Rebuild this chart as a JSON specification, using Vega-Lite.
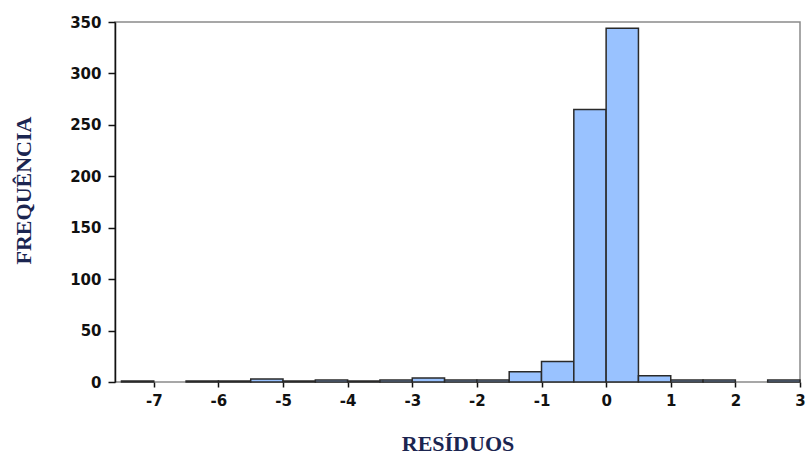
{
  "$schema": "https://vega.github.io/schema/vega-lite/v6.json",
  "width": 685,
  "height": 360,
  "autosize": {"type": "none"},
  "padding": {"left": 115, "top": 22, "right": 6, "bottom": 72},
  "background": "white",
  "config": {
    "view": {"stroke": "#8a8a8a", "strokeWidth": 1.5}
  },
  "data": {
    "values": [
      {"bin_start": -7.5, "bin_end": -7.0, "count": 1},
      {"bin_start": -6.5, "bin_end": -6.0, "count": 1},
      {"bin_start": -6.0, "bin_end": -5.5, "count": 1},
      {"bin_start": -5.5, "bin_end": -5.0, "count": 3},
      {"bin_start": -5.0, "bin_end": -4.5, "count": 1},
      {"bin_start": -4.5, "bin_end": -4.0, "count": 2},
      {"bin_start": -4.0, "bin_end": -3.5, "count": 1},
      {"bin_start": -3.5, "bin_end": -3.0, "count": 2},
      {"bin_start": -3.0, "bin_end": -2.5, "count": 4},
      {"bin_start": -2.5, "bin_end": -2.0, "count": 2},
      {"bin_start": -2.0, "bin_end": -1.5, "count": 2},
      {"bin_start": -1.5, "bin_end": -1.0, "count": 10},
      {"bin_start": -1.0, "bin_end": -0.5, "count": 20},
      {"bin_start": -0.5, "bin_end": 0.0, "count": 265},
      {"bin_start": 0.0, "bin_end": 0.5, "count": 344},
      {"bin_start": 0.5, "bin_end": 1.0, "count": 6},
      {"bin_start": 1.0, "bin_end": 1.5, "count": 2},
      {"bin_start": 1.5, "bin_end": 2.0, "count": 2},
      {"bin_start": 2.5, "bin_end": 3.0, "count": 2}
    ]
  },
  "mark": {"type": "rect", "fill": "#99C2FF", "stroke": "#2a2a2a", "strokeWidth": 1.5},
  "encoding": {
    "x": {
      "field": "bin_start",
      "type": "quantitative",
      "scale": {"domain": [-7.6, 3.0], "nice": false, "zero": false},
      "axis": {
        "values": [-7, -6, -5, -4, -3, -2, -1, 0, 1, 2, 3],
        "labelExpr": "'' + datum.value",
        "grid": false,
        "domain": false,
        "tickColor": "#111",
        "tickWidth": 1.5,
        "tickSize": 5,
        "labelPadding": 6,
        "labelFont": "DejaVu Sans",
        "labelFontWeight": "bold",
        "labelFontSize": 15,
        "labelColor": "#111",
        "labelFlush": false,
        "title": "RESÍDUOS",
        "titleFont": "Liberation Serif",
        "titleFontWeight": "bold",
        "titleFontSize": 22,
        "titleColor": "#1b2550",
        "titleBaseline": "middle",
        "titleY": 61
      }
    },
    "x2": {"field": "bin_end"},
    "y": {
      "field": "count",
      "type": "quantitative",
      "scale": {"domain": [0, 350], "nice": false},
      "axis": {
        "values": [0, 50, 100, 150, 200, 250, 300, 350],
        "grid": false,
        "domain": true,
        "domainColor": "#111",
        "domainWidth": 1.5,
        "tickColor": "#111",
        "tickWidth": 1.5,
        "tickSize": 7,
        "labelPadding": 7,
        "labelFont": "DejaVu Sans",
        "labelFontWeight": "bold",
        "labelFontSize": 15,
        "labelColor": "#111",
        "labelFlush": false,
        "title": "FREQUÊNCIA",
        "titleFont": "Liberation Serif",
        "titleFontWeight": "bold",
        "titleFontSize": 22,
        "titleColor": "#1b2550",
        "titleBaseline": "middle",
        "titleX": -92,
        "titleY": 168
      }
    },
    "y2": {"datum": 0}
  }
}
